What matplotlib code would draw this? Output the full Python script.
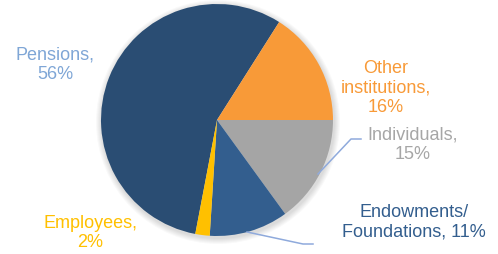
import matplotlib.pyplot as plt
import numpy as np

plt.rcParams['font.family'] = ['Liberation Sans', 'DejaVu Sans']

# data
labels = ['Pensions', 'Other institutions', 'Individuals', 'Endowments/\nFoundations', 'Employees']
shares = [56, 16, 15, 11, 2]
colors = ['#2A4D73', '#F89A38', '#A5A5A5', '#335E8E', '#FFC000']
text_colors = ['#7FA6D6', '#F89A38', '#A6A6A6', '#335E8E', '#FFC000']

fig = plt.figure(figsize=(4.98, 2.55), dpi=100)
ax = fig.add_axes([0, 0, 1, 1])

cx, cy, r = 217, 134, 116

# soft shadow under the pie
for k in range(6):
    ax.add_patch(plt.Circle((cx + 1, cy - 2), r + 1 + k, color='#000000', alpha=0.025, lw=0, zorder=0))

ax.pie(shares, colors=colors, startangle=259.2, counterclock=False,
       center=(cx, cy), radius=r, frame=True,
       wedgeprops=dict(linewidth=0, zorder=2))
ax.set_xlim(0, 498)
ax.set_ylim(0, 255)
ax.set_aspect('equal')
ax.axis('off')

# label positions (pixel coords, y up)
pos = [(55, 190), (386, 167), (413, 110), (414, 33), (90, 22)]
for lab, s, c, (x, y) in zip(labels, shares, text_colors, pos):
    if lab == 'Other institutions':
        txt = 'Other\ninstitutions,\n' + str(s) + '%'
    elif lab.startswith('Endowments'):
        txt = lab + ', ' + str(s) + '%'
    else:
        txt = lab + ',\n' + str(s) + '%'
    ax.text(x, y, txt, color=c, fontsize=13, ha='center', va='center',
            linespacing=1.2, zorder=5)

# leader lines
lc = '#8FAADC'
ax.plot([318, 351, 361], [255 - 175, 255 - 140, 255 - 140], color=lc, lw=1.1, zorder=3)
ax.plot([247, 303, 313], [255 - 233, 255 - 245, 255 - 245], color=lc, lw=1.1, zorder=3)

fig.savefig('out.png', dpi=100)
